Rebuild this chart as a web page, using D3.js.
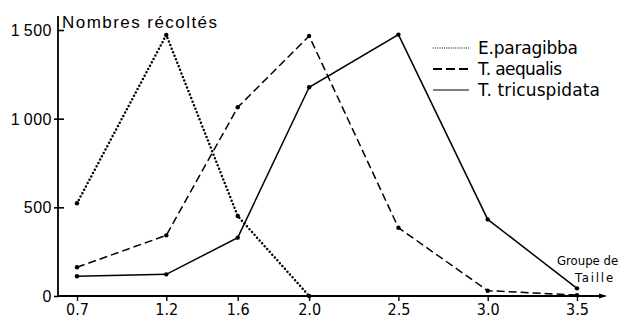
<!DOCTYPE html>
<html><head><meta charset="utf-8">
<script src="https://cdn.jsdelivr.net/npm/d3@7"></script>
<style>
html,body{margin:0;padding:0;background:#fff;}
svg{display:block;}
</style></head>
<body><svg id="c" width="620" height="322"></svg>
<script>
const sizes = [0.7, 1.2, 1.6, 2.0, 2.5, 3.0, 3.5];
const xTickLabels = ["0.7", "1.2", "1.6", "2.0", "2.5", "3.0", "3.5"];
const yTicks = [0, 500, 1000, 1500];
const yTickLabels = ["0", "500", "1\u2009000", "1\u2009500"];
const paragibba = [523, 1472, 451, 0];
const aequalis = [162, 342, 1064, 1466, 385, 30, 5];
const tricuspidata = [111, 122, 329, 1177, 1474, 432, 43];
const seriesNames = ["E.paragibba", "T. aequalis", "T. tricuspidata"];

const svg = d3.select("#c");
const x = d3.scaleLinear().domain([0.7, 3.5]).range([77, 577]);
const y = d3.scaleLinear().domain([0, 1500]).range([296, 30]);
const axisX0 = 58;

const sansFont = "'Liberation Sans', Arial, sans-serif";
const narrowFont = "'Liberation Sans Narrow', 'DejaVu Sans Condensed', sans-serif";
const legendFont = "'DejaVu Sans', sans-serif";

// Y axis
const ya = svg.append("g").attr("transform", `translate(${axisX0},0)`)
  .call(d3.axisLeft(y).tickValues(yTicks).tickSize(5).tickPadding(2)
    .tickFormat((d, i) => yTickLabels[i]));
ya.select(".domain").remove();
ya.selectAll(".tick line").attr("stroke", "#000").attr("stroke-width", 1.6)
  .attr("x1", d => d === 1500 ? 0 : -4).attr("x2", d => d === 0 ? 0 : 6);
ya.selectAll(".tick text").attr("font-family", sansFont).attr("font-size", 16)
  .attr("fill", "#000").attr("dy", "0.34em").attr("x", -6)
  .attr("letter-spacing", "0.5px");
svg.append("line").attr("x1", axisX0).attr("x2", axisX0)
  .attr("y1", y(1500) - 14).attr("y2", y(0)).attr("stroke", "#000").attr("stroke-width", 1.8);

// X axis
const xa = svg.append("g").attr("transform", `translate(0,${y(0)})`)
  .call(d3.axisBottom(x).tickValues(sizes).tickSize(5).tickPadding(3)
    .tickFormat((d, i) => xTickLabels[i]));
xa.select(".domain").remove();
xa.selectAll(".tick line").attr("stroke", "#000").attr("stroke-width", 1.4);
xa.selectAll(".tick text").attr("font-family", narrowFont).attr("font-size", 16)
  .attr("fill", "#000");
svg.append("line").attr("x1", axisX0).attr("x2", x(3.5) + 28)
  .attr("y1", y(0)).attr("y2", y(0)).attr("stroke", "#000").attr("stroke-width", 1.8);
svg.append("path")
  .attr("d", `M${x(3.5) + 22},${y(0) - 2.5}L${x(3.5) + 30},${y(0)}L${x(3.5) + 22},${y(0) + 2.5}Z`)
  .attr("fill", "#000");

// Axis titles
svg.append("text").attr("x", axisX0 + 4).attr("y", 28)
  .attr("font-family", sansFont).attr("font-size", 17)
  .attr("textLength", 155).attr("lengthAdjust", "spacing")
  .text("Nombres récoltés");
svg.append("text").attr("x", 557).attr("y", 265)
  .attr("font-family", narrowFont).attr("font-size", 13)
  .text("Groupe de");
svg.append("text").attr("x", 575).attr("y", 282)
  .attr("font-family", narrowFont).attr("font-size", 13).attr("letter-spacing", "1.8px")
  .text("Taille");

// Series
const styles = [
  {dash: "0,3.8", width: 2.5, cap: "round"},
  {dash: "8,4", width: 1.5, cap: "butt"},
  {dash: null, width: 1.5, cap: "butt"}
];
const seriesData = [paragibba, aequalis, tricuspidata];
const line = d3.line().x(d => x(d[0])).y(d => y(d[1]));
seriesData.forEach((vals, k) => {
  const pts = vals.map((v, i) => [sizes[i], v]);
  svg.append("path").datum(pts).attr("d", line).attr("fill", "none")
    .attr("stroke", "#000").attr("stroke-width", styles[k].width)
    .attr("stroke-linecap", styles[k].cap)
    .attr("stroke-dasharray", styles[k].dash);
  svg.append("g").selectAll("circle").data(pts).join("circle")
    .attr("cx", d => x(d[0])).attr("cy", d => y(d[1])).attr("r", 2.2).attr("fill", "#000");
});

// Legend
const legendWidths = [100, 84, 122];
const lg = svg.append("g").attr("transform", "translate(433,48)");
seriesNames.forEach((name, k) => {
  const row = lg.append("g").attr("transform", `translate(0,${k * 21})`);
  row.append("line").attr("x1", 0).attr("x2", 36).attr("y1", 0).attr("y2", 0)
    .attr("stroke", "#000")
    .attr("stroke-width", k === 0 ? 1.2 : (k === 1 ? 2 : 1.2))
    .attr("stroke-dasharray", k === 0 ? "1,1.2" : (k === 1 ? "9,4" : null));
  row.append("text").attr("x", 45).attr("y", 0).attr("dy", "0.35em")
    .attr("font-family", legendFont).attr("font-size", 17)
    .attr("textLength", legendWidths[k]).attr("lengthAdjust", "spacing")
    .text(name);
});
</script></body></html>
